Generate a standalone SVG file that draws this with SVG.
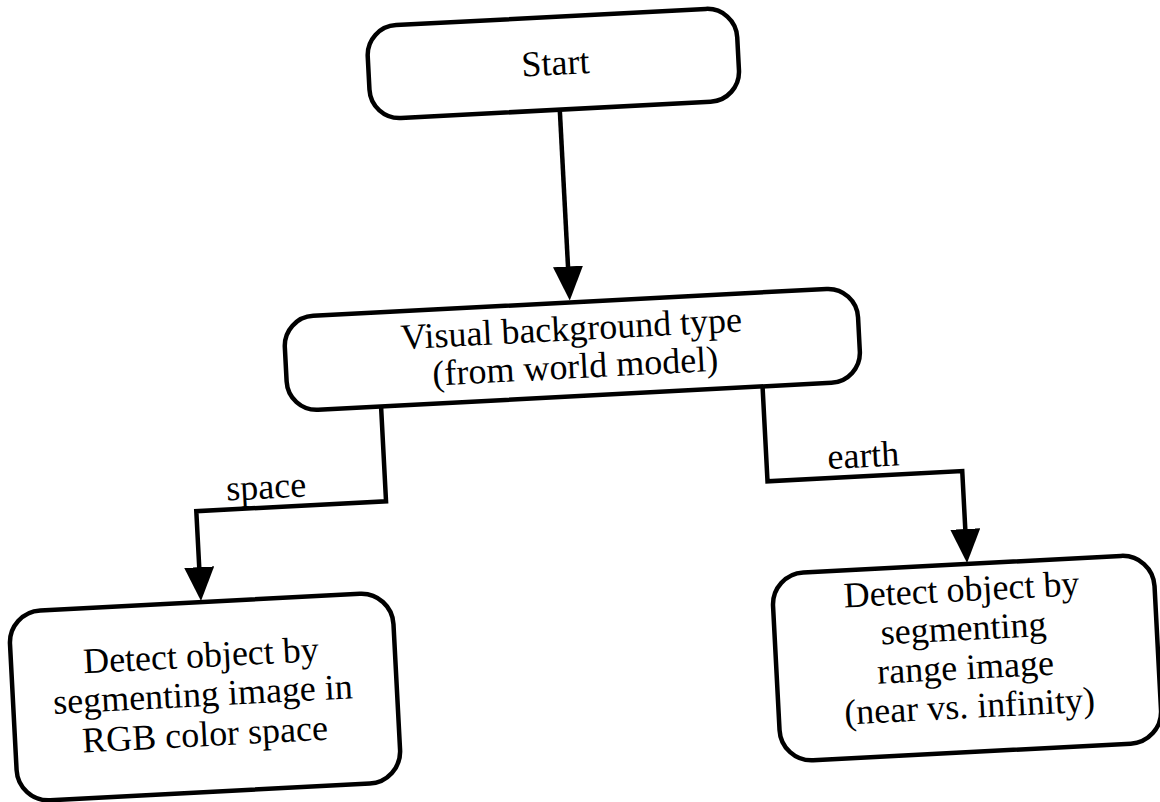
<svg xmlns="http://www.w3.org/2000/svg" width="1160" height="802" viewBox="0 0 1160 802">
<style>
.box{fill:#fff;stroke:#000;stroke-width:4.5}
.lbl{font-family:"Liberation Serif","Times New Roman",serif;font-size:36px;fill:#000;text-anchor:middle}
.conn{fill:none;stroke:#000;stroke-width:4.5;stroke-linejoin:miter}
</style>
<defs>
<marker id="arr" markerUnits="userSpaceOnUse" viewBox="0 0 34 30" markerWidth="34" markerHeight="30" refX="24" refY="15" orient="auto">
<path d="M0,0 L34,15 L0,30 Z" fill="#000"/>
</marker>
</defs>
<rect width="1160" height="802" fill="#fff"/>
<g transform="rotate(-3 580 400)">
<g id="connectors">
<path class="conn" d="M575,109 L575,290" marker-end="url(#arr)"/>
<path class="conn" d="M381,396 L381,491 L191,491 L191,571" marker-end="url(#arr)"/>
<path class="conn" d="M763,396 L763,491 L958,491 L958,573" marker-end="url(#arr)"/>
<text class="lbl" x="262" y="482">space</text>
<text class="lbl" x="860" y="482">earth</text>
</g>
<g id="start">
<rect class="box" x="386" y="16" width="370" height="93" rx="30"/>
<text class="lbl" x="573" y="74">Start</text>
</g>
<g id="visual">
<rect class="box" x="288" y="302" width="574" height="94" rx="30"/>
<text class="lbl" x="575" y="340">Visual background type</text>
<text class="lbl" x="577" y="378">(from world model)</text>
</g>
<g id="space-node">
<rect class="box" x="-2" y="582" width="384" height="190" rx="32"/>
<text class="lbl" x="188" y="647">Detect object by</text>
<text class="lbl" x="188" y="686">segmenting image in</text>
<text class="lbl" x="188" y="726">RGB color space</text>
</g>
<g id="earth-node">
<rect class="box" x="762" y="584" width="382" height="188" rx="32"/>
<text class="lbl" x="951" y="621">Detect object by</text>
<text class="lbl" x="951" y="660">segmenting</text>
<text class="lbl" x="951" y="699">range image</text>
<text class="lbl" x="953" y="738">(near vs. infinity)</text>
</g>
</g>
</svg>
